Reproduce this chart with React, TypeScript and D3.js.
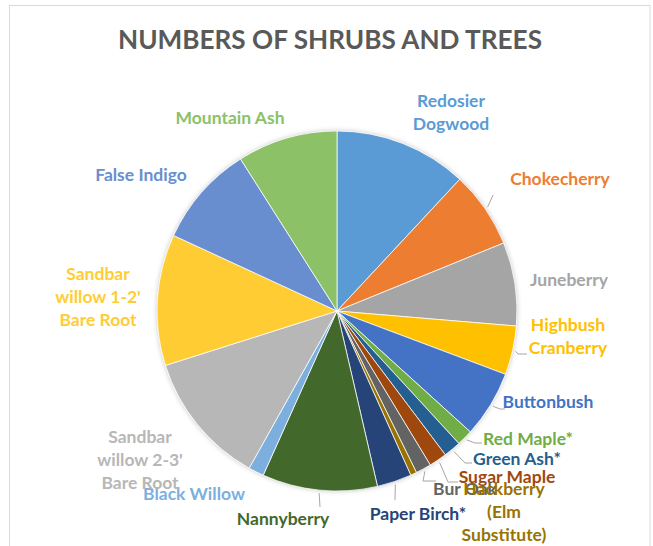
import React from 'react';
import * as d3 from 'd3';

// plant names, as shown in the chart (clockwise from 12 o'clock)
const plants = [
  'Redosier Dogwood', 'Chokecherry', 'Juneberry', 'Highbush Cranberry', 'Buttonbush',
  'Red Maple*', 'Green Ash*', 'Sugar Maple', 'Bur Oak', 'Hackberry (Elm Substitute)',
  'Paper Birch*', 'Nannyberry', 'Black Willow', "Sandbar willow 2-3' Bare Root",
  "Sandbar willow 1-2' Bare Root", 'False Indigo', 'Mountain Ash',
];

// counts
const counts = [215, 124, 135, 79, 108, 26, 28, 29, 25, 10, 56, 186, 25, 216, 212, 164, 162];

const colors = [
  '#5B9BD5', '#ED7D31', '#A5A5A5', '#FFC000', '#4472C4',
  '#70AD47', '#255E91', '#9E480E', '#636363', '#997300',
  '#264478', '#43682B', '#7CAFDD', '#B7B7B7', '#FFCD33',
  '#698ED0', '#8CC168',
];

// label text lines
const labelLines = [
  ['Redosier', 'Dogwood'], ['Chokecherry'], ['Juneberry'], ['Highbush', 'Cranberry'], ['Buttonbush'],
  ['Red Maple*'], ['Green Ash*'], ['Sugar Maple'], ['Bur Oak'], ['Hackberry', '(Elm', 'Substitute)'],
  ['Paper Birch*'], ['Nannyberry'], ['Black Willow'], ['Sandbar', "willow 2-3'", 'Bare Root'],
  ['Sandbar', "willow 1-2'", 'Bare Root'], ['False Indigo'], ['Mountain Ash'],
];

// label layout: centre x, first baseline y, leader path after the slice edge (or null)
const labelPos: [number, number, number[][] | null][] = [
  [451, 107, null],
  [560, 185, [[493, 195]]],
  [569, 286, null],
  [568, 331, [[518, 354], [527, 354]]],
  [548, 408, [[500, 409], [505, 409]]],
  [528, 445, [[475, 443], [482, 443]]],
  [517, 465, [[465, 463], [472, 463]]],
  [507, 483, [[448, 482], [458, 482]]],
  [465, 495, [[423, 481], [436, 481]]],
  [504, 495, null],
  [418, 520, [[395, 500]]],
  [283, 525, [[320, 507]]],
  [194, 500, null],
  [140, 443, null],
  [98, 280, null],
  [141, 181, null],
  [230, 124, null],
];

const W = 653, H = 546;
const cx = 337, cy = 311, R = 180;
const FONT = 'Lato, "Open Sans", sans-serif';

export default function App() {
  const data = plants.map((p, i) => ({ name: p, value: counts[i], color: colors[i], i }));
  const pie = d3.pie<any>().sort(null).value(d => d.value);
  const arcs = pie(data);
  const arc = d3.arc<any>().innerRadius(0).outerRadius(R);
  const line = d3.line();

  return (
    <svg width={W} height={H} style={{ position: 'absolute', left: 0, top: 0, background: '#fff' }}>
      <defs>
        <filter id="sh" x="-20%" y="-20%" width="140%" height="140%">
          <feDropShadow dx="0" dy="0" stdDeviation="2.5" floodColor="#000" floodOpacity="0.25" />
        </filter>
      </defs>
      <rect x={9.5} y={5.5} width={640.5} height={560} fill="#fff" stroke="#D9D9D9" strokeWidth={1} />
      <text x={330} y={49} textAnchor="middle" fontFamily={FONT} fontWeight={700}
        fontSize={26} fill="#595959" textLength={424} lengthAdjust="spacingAndGlyphs">
        NUMBERS OF SHRUBS AND TREES
      </text>
      <g transform={`translate(${cx},${cy})`}>
        <circle r={R} fill="#fff" filter="url(#sh)" />
        {arcs.map((a, i) => (
          <path key={i} d={arc(a) as string} fill={a.data.color} stroke="#fff" strokeWidth={0.75} />
        ))}
      </g>
      {arcs.map((a, i) => {
        const pos = labelPos[i];
        if (!pos[2]) return null;
        const mid = (a.startAngle + a.endAngle) / 2;
        const start: [number, number] = [cx + (R + 3) * Math.sin(mid), cy - (R + 3) * Math.cos(mid)];
        const pts = [start, ...(pos[2] as [number, number][])];
        return <path key={'l' + i} d={line(pts) as string} fill="none" stroke="#A6A6A6" strokeWidth={1} />;
      })}
      {labelLines.map((lines, i) => (
        <text key={'t' + i} x={labelPos[i][0]} y={labelPos[i][1]} textAnchor="middle"
          fontFamily={FONT} fontWeight={700} fontSize={17.5} fill={colors[i]}>
          {lines.map((l, j) => (
            <tspan key={j} x={labelPos[i][0]} dy={j === 0 ? 0 : 23}>{l}</tspan>
          ))}
        </text>
      ))}
    </svg>
  );
}
